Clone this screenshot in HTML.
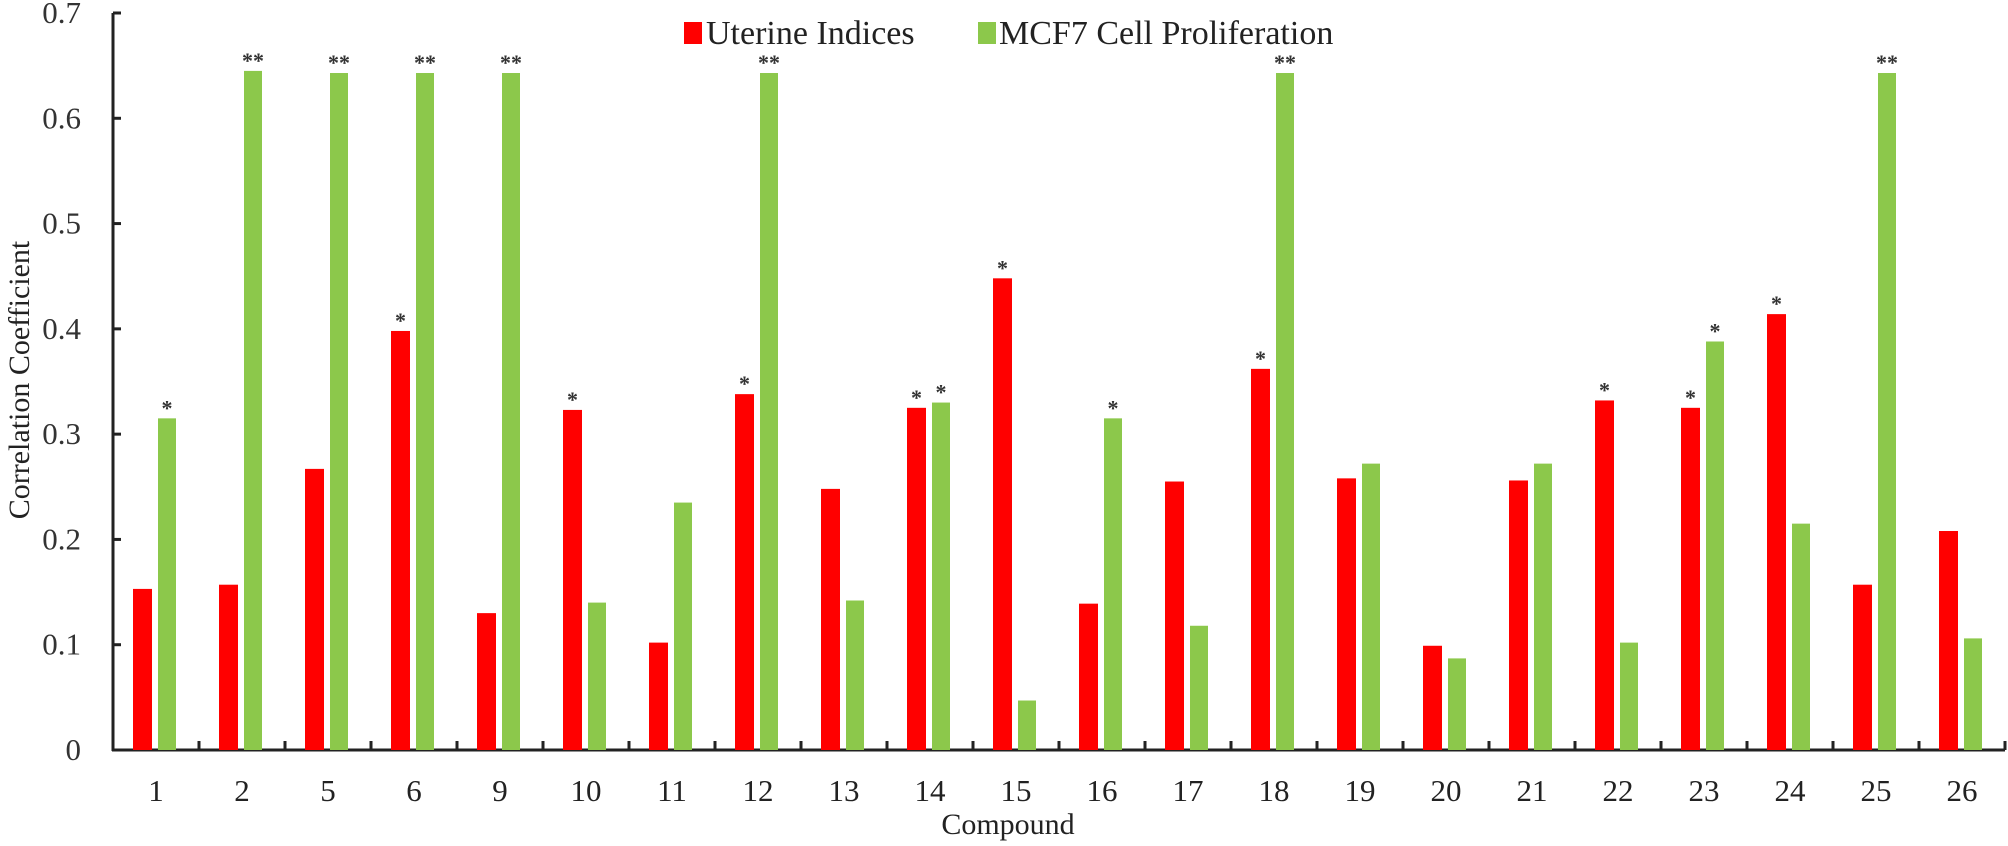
<!DOCTYPE html>
<html><head><meta charset="utf-8"><style>
body{margin:0;background:#fff}
svg{display:block;font-family:"Liberation Serif",serif}
</style></head><body>
<svg id="chart" width="2008" height="846" viewBox="0 0 2008 846">
<g id="legend">
<g><rect x="684" y="22" width="18" height="22" fill="#ff0000"/><text x="706" y="44" font-size="34" fill="#222">Uterine Indices</text></g>
<g><rect x="978" y="22" width="18" height="22" fill="#8cc84b"/><text x="999" y="44" font-size="34" fill="#222">MCF7 Cell Proliferation</text></g>
</g>
<text transform="translate(29,380) rotate(-90)" text-anchor="middle" font-size="30" fill="#222">Correlation Coefficient</text>
<text x="1008" y="834" text-anchor="middle" font-size="30" fill="#222">Compound</text>
</svg>
<script>
const categories=["1","2","5","6","9","10","11","12","13","14","15","16","17","18","19","20","21","22","23","24","25","26"];
const uterine=[0.153,0.157,0.267,0.398,0.130,0.323,0.102,0.338,0.248,0.325,0.448,0.139,0.255,0.362,0.258,0.099,0.256,0.332,0.325,0.414,0.157,0.208];
const mcf7=[0.315,0.645,0.643,0.643,0.643,0.140,0.235,0.643,0.142,0.330,0.047,0.315,0.118,0.643,0.272,0.087,0.272,0.102,0.388,0.215,0.643,0.106];
const uterineSig=["","","","*","","*","","*","","*","*","","","*","","","","*","*","*","",""];
const mcf7Sig=["*","**","**","**","**","","","**","","*","","*","","**","","","","","*","","**",""];
const yTicks=[0,0.1,0.2,0.3,0.4,0.5,0.6,0.7];
const yTickLabels=["0","0.1","0.2","0.3","0.4","0.5","0.6","0.7"];

const svg=document.getElementById('chart');
const NS='http://www.w3.org/2000/svg';
const X0=113,X1=2005,Y0=750,Ytop=13,YMAX=0.7;
const bw=(X1-X0)/categories.length;
const y=v=>Y0-(v/YMAX)*(Y0-Ytop);
const x=i=>X0+i*bw;
function mk(tag,attrs){const e=document.createElementNS(NS,tag);for(const k in attrs)e.setAttribute(k,attrs[k]);svg.appendChild(e);return e;}
let ax=mk('line',{x1:X0,y1:Ytop,x2:X0,y2:Y0+1,stroke:'#222','stroke-width':3});


yTicks.forEach((t,i)=>{
  const tk=mk('line',{x1:X0,x2:X0+8,y1:y(t),y2:y(t),stroke:'#222','stroke-width':3});
  
  
  const tl=mk('text',{x:81,y:y(t)+10,'text-anchor':'end','font-size':31,fill:'#333'});
  tl.textContent=yTickLabels[i];
  
  
});
let xa=mk('line',{x1:X0-1,y1:Y0,x2:X1,y2:Y0,stroke:'#222','stroke-width':3});


categories.forEach((c,i)=>{
  const tk=mk('line',{x1:x(i+1),x2:x(i+1),y1:Y0,y2:Y0-9,stroke:'#222','stroke-width':3});
  
  
  const tl=mk('text',{x:x(i)+bw/2,y:801,'text-anchor':'middle','font-size':31,fill:'#222'});
  tl.textContent=c;
  
  
  const r=mk('rect',{x:x(i)+20,y:y(uterine[i]),width:19,height:Y0-y(uterine[i]),fill:'#ff0000'});
  
  
  const g=mk('rect',{x:x(i)+45,y:y(mcf7[i]),width:18,height:Y0-y(mcf7[i]),fill:'#8cc84b'});
  
  
  if(uterineSig[i]){const s=mk('text',{x:x(i)+29.5,y:y(uterine[i])-3,'text-anchor':'middle','font-size':22,'font-weight':'bold',fill:'#333'});s.textContent=uterineSig[i];
  
  }
  if(mcf7Sig[i]){const s=mk('text',{x:x(i)+54,y:y(mcf7[i])-3,'text-anchor':'middle','font-size':22,'font-weight':'bold',fill:'#333'});s.textContent=mcf7Sig[i];
  
  }
});
</script>
</body></html>
